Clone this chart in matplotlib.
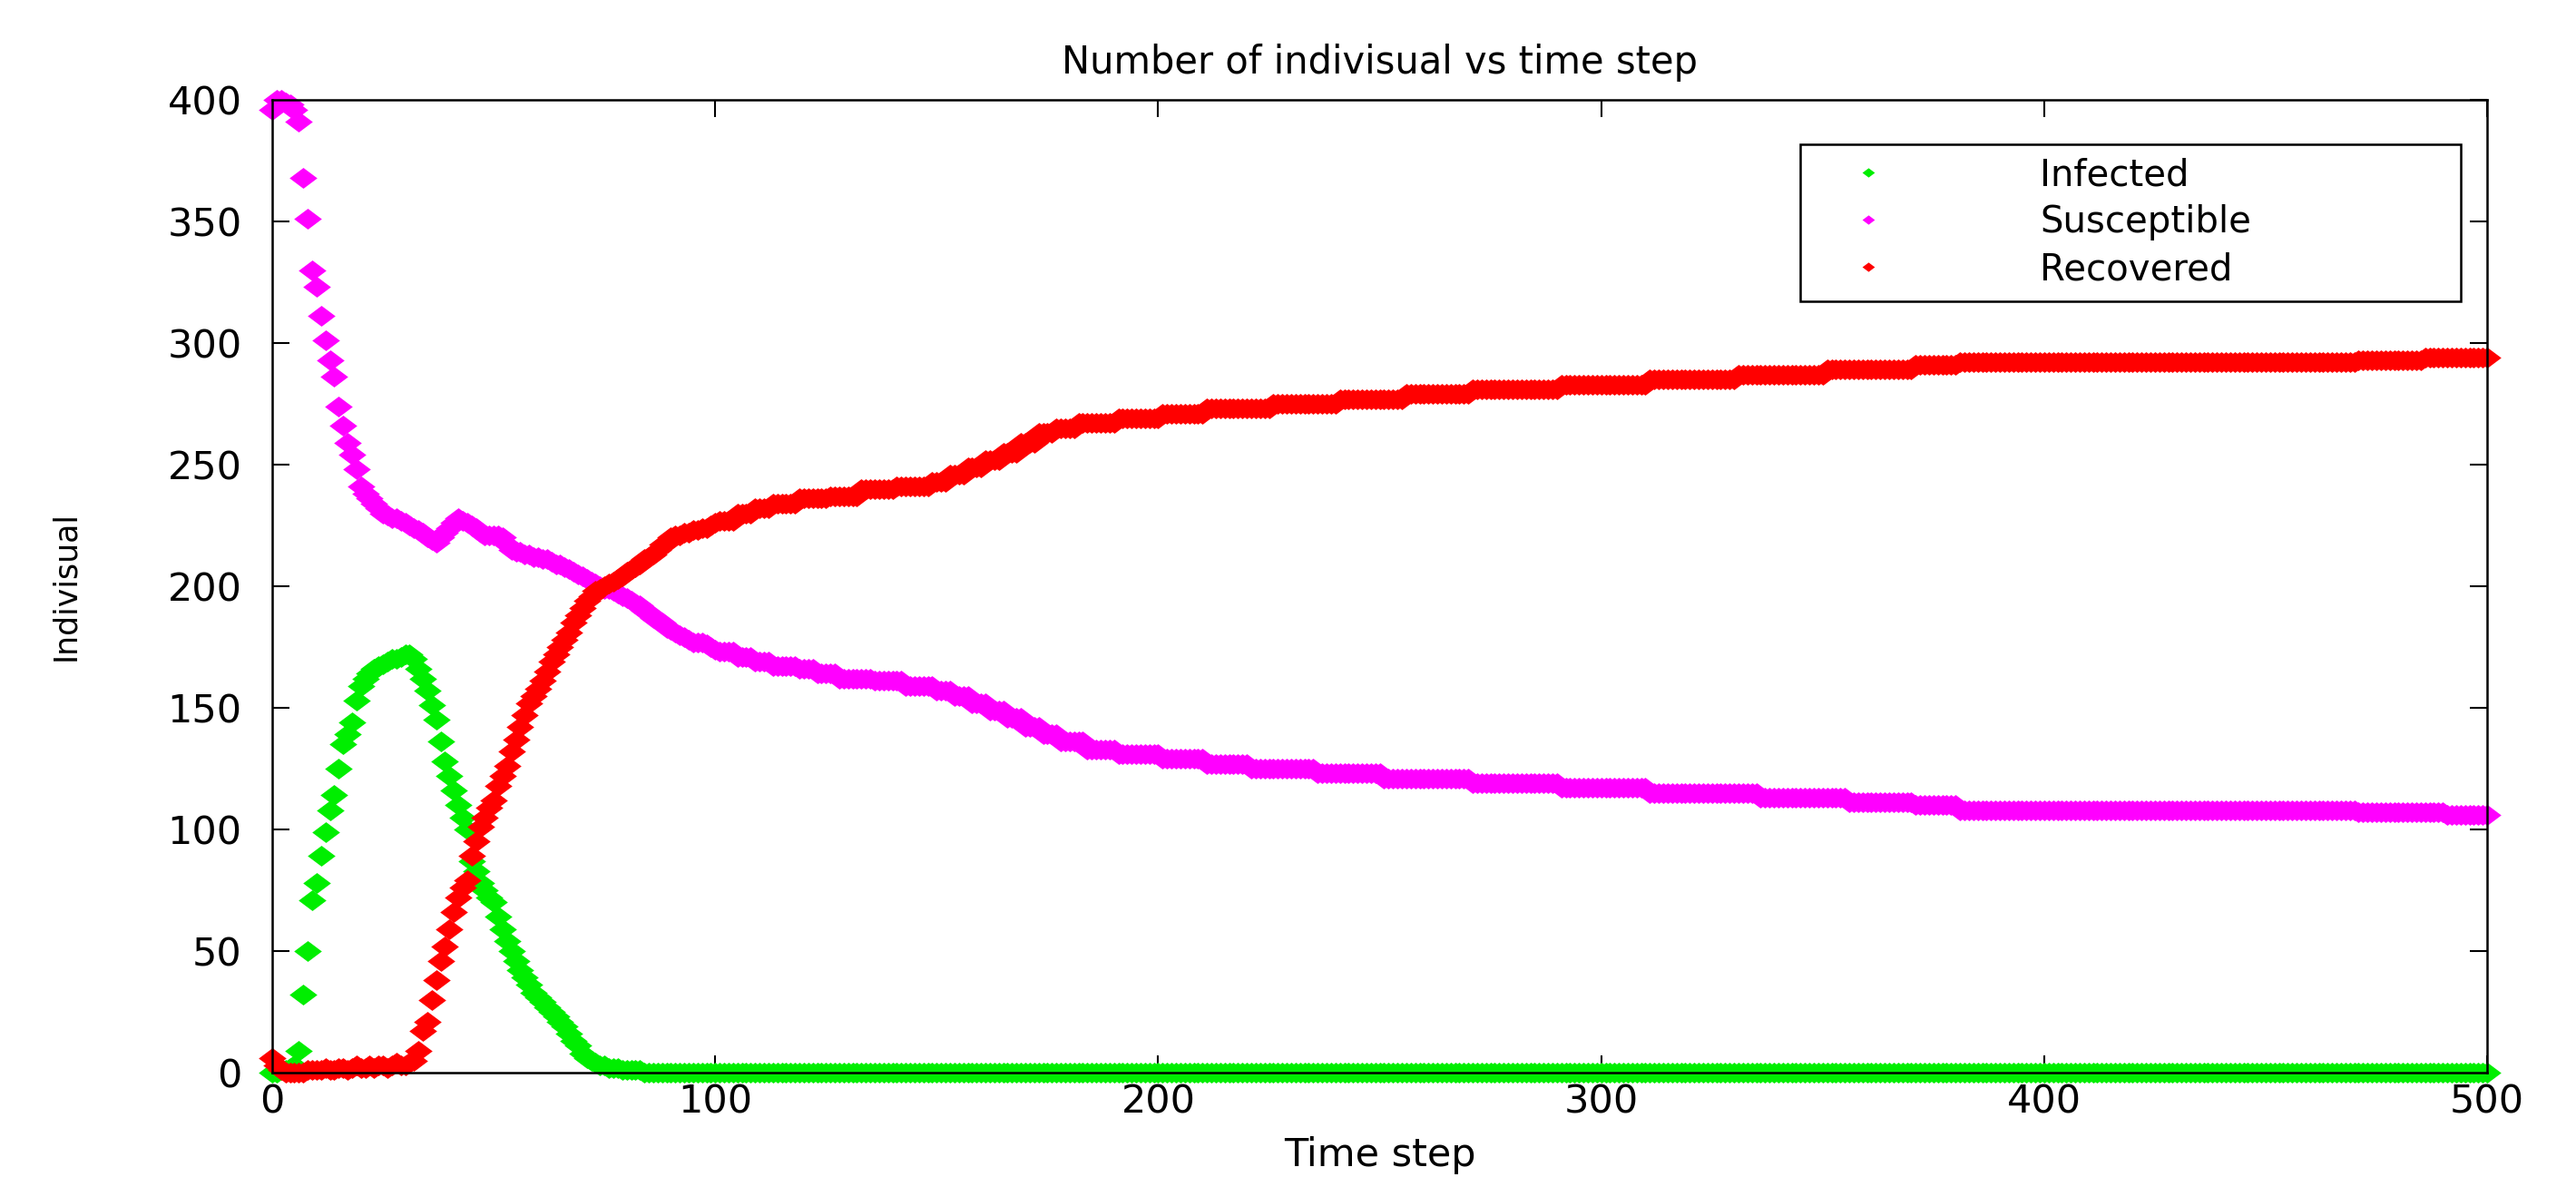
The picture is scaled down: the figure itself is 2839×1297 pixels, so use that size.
import numpy as np
import matplotlib
matplotlib.use("Agg")
import matplotlib.pyplot as plt

# values, one per time step for t = 0..100
infected_early = [
    0, 0, 1, 1, 2, 3, 9, 32, 50, 71,
    78, 89, 99, 108, 114, 125, 135, 139, 144, 153,
    159, 162, 164, 166, 167, 168, 169, 170, 170, 171,
    172, 172, 170, 166, 162, 157, 151, 145, 136, 128,
    122, 116, 110, 105, 100, 87, 83, 78, 75, 72,
    70, 64, 59, 54, 50, 46, 42, 39, 36, 33,
    31, 29, 27, 25, 23, 21, 19, 16, 13, 11,
    8, 6, 5, 4, 3, 3, 2, 2, 2, 1,
    1, 1, 1, 1, 0, 0, 0, 0, 0, 0,
    0, 0, 0, 0, 0, 0, 0, 0, 0, 0,
    0]
susceptible_early = [
    396, 400, 400, 399, 398, 396, 391, 368, 351, 330,
    323, 311, 301, 293, 286, 274, 266, 259, 254, 248,
    241, 238, 236, 234, 232, 230, 229, 228, 228, 227,
    226, 225, 224, 223, 222, 220, 219, 218, 220, 222,
    224, 226, 228, 227, 226, 225, 224, 222, 221, 221,
    221, 221, 220, 217, 215, 214, 214, 213, 213, 212,
    212, 211, 211, 210, 209, 209, 208, 207, 206, 205,
    204, 203, 202, 201, 200, 199, 199, 198, 197, 196,
    195, 194, 193, 192, 190, 189, 187, 186, 185, 183,
    182, 181, 180, 179, 178, 177, 177, 177, 176, 175,
    174]
recovered_early = [
    6, 3, 1, 0, 0, 0, 0, 0, 1, 1,
    1, 1, 2, 1, 1, 2, 2, 1, 2, 3,
    2, 2, 3, 2, 3, 3, 2, 3, 4, 3,
    3, 4, 5, 9, 17, 21, 30, 38, 46, 52,
    59, 66, 72, 76, 79, 89, 95, 101, 105, 109,
    112, 118, 122, 126, 132, 137, 142, 147, 152, 155,
    158, 161, 165, 169, 172, 175, 178, 181, 185, 188,
    191, 194, 196, 198, 199, 200, 201, 202, 203, 204,
    206, 207, 208, 209, 211, 212, 213, 215, 217, 218,
    220, 221, 221, 222, 222, 223, 223, 224, 224, 225,
    226]

# after t = 100 the counts change slowly: step where the value changes, new value
infected_late_t = [101]
infected_late_v = [0]
susceptible_late_t = [101, 105, 109, 113, 119, 123, 128, 136, 143, 150, 154, 158, 162, 166, 170, 174, 178,
                      184, 191, 201, 211, 221, 236, 251, 271, 291, 311, 336, 356, 371, 381, 471, 491]
susceptible_late_v = [173, 171, 169, 167, 166, 164, 162, 161, 159, 157, 155, 152, 149, 146, 142, 139, 136,
                      133, 131, 129, 127, 125, 123, 121, 119, 117, 115, 113, 111, 110, 108, 107, 106]
recovered_late_t = [101, 105, 109, 113, 119, 126, 133, 141, 149, 153, 157, 161, 165, 169, 173, 177,
                    182, 191, 201, 211, 226, 241, 256, 271, 291, 311, 331, 351, 371, 381, 471, 486]
recovered_late_v = [227, 230, 232, 234, 236, 237, 240, 241, 243, 246, 249, 252, 255, 259, 263, 265,
                    267, 269, 271, 273, 275, 277, 279, 281, 283, 285, 287, 289, 291, 292, 293, 294]

labels = ["Infected", "Susceptible", "Recovered"]
colors = ["#00ee00", "#ff00ff", "#ff0000"]
t_end = 500


def full_series(early, late_t, late_v):
    t_late = np.arange(len(early), t_end + 1)
    idx = np.searchsorted(late_t, t_late, side="right") - 1
    return np.concatenate([early, np.asarray(late_v)[idx]])


t = np.arange(0, t_end + 1)
series = [
    full_series(infected_early, infected_late_t, infected_late_v),
    full_series(susceptible_early, susceptible_late_t, susceptible_late_v),
    full_series(recovered_early, recovered_late_t, recovered_late_v),
]

plt.rcParams["font.family"] = ["DejaVu Sans"]
fig = plt.figure(figsize=(28.39, 12.97), dpi=100)
ax = fig.add_axes([0.1057, 0.0887, 0.8598, 0.8265])

# flat diamond like the matlab marker
diamond = [(-1, 0), (0, 0.75), (1, 0), (0, -0.75), (-1, 0)]
for y, lab, c in zip(series, labels, colors):
    ax.plot(t, y, linestyle="none", marker=diamond, markersize=22,
            markerfacecolor=c, markeredgewidth=0, color=c, label=lab, clip_on=False)

ax.set_xlim(0, 500)
ax.set_ylim(0, 400)
ax.set_xticks(np.arange(0, 501, 100))
ax.set_yticks(np.arange(0, 401, 50))
ax.tick_params(direction="in", length=14, width=1.5, labelsize=31, top=True, right=True)
ax.tick_params(axis="x", pad=8)
ax.tick_params(axis="y", pad=24)
for sp in ax.spines.values():
    sp.set_linewidth(1.8)

ax.set_title("Number of indivisual vs time step", fontsize=30, y=1.038, pad=0, va="center")
ax.set_xlabel("Time step", fontsize=31, va="center")
ax.xaxis.set_label_coords(0.5, -0.085)
ax.set_ylabel("Indivisual", fontsize=25, va="center")
ax.yaxis.set_label_coords(-0.0934, 0.5)

leg = ax.legend(loc="upper left", bbox_to_anchor=(0.69, 0.794, 0.298, 0.16), mode="expand",
                borderaxespad=0, fontsize=29, markerscale=0.45, handlelength=3.0, handletextpad=3.2,
                labelspacing=0.3, borderpad=0.35, fancybox=False, framealpha=1)
leg.get_frame().set_edgecolor("black")
leg.get_frame().set_linewidth(1.8)

fig.savefig("out.png", dpi=100)
